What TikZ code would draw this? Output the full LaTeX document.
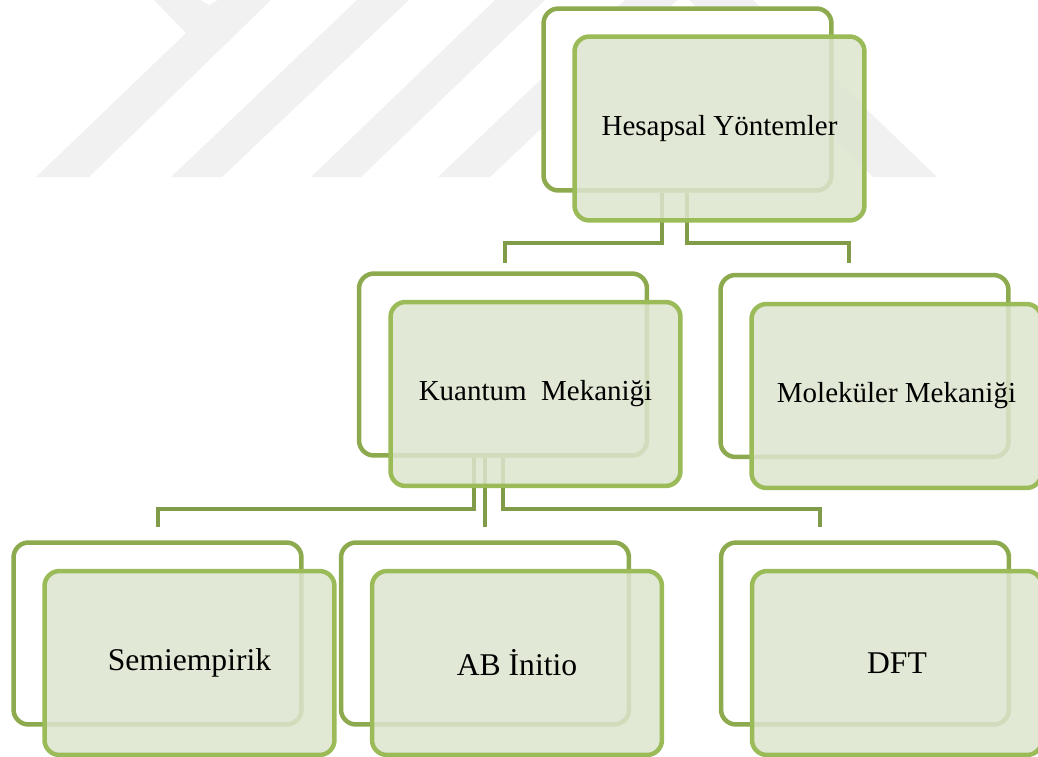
\documentclass[tikz,border=0pt]{standalone}
\usepackage{fontspec}
\setmainfont{Liberation Serif}
\usetikzlibrary{calc}

\definecolor{olivefront}{HTML}{9BBB59}
\definecolor{oliveback}{HTML}{8DAA4F}
\definecolor{olivelink}{HTML}{809C48}
\definecolor{olivefill}{HTML}{DCE5CE}
\definecolor{markgray}{HTML}{F1F1F1}

\tikzset{backbox/.style = {shape = rectangle,
                           rounded corners = 0.3cm,
                           draw = oliveback,
                           fill = white,
                           line width = 0.09cm,
                           minimum width = 5.76cm,
                           minimum height = 3.64cm,
                           inner sep = 0pt},
         frontbox/.style = {shape = rectangle,
                            rounded corners = 0.3cm,
                            draw = olivefront,
                            fill = olivefill,
                            fill opacity = 0.85,
                            text opacity = 1,
                            line width = 0.09cm,
                            minimum width = 5.8cm,
                            minimum height = 3.68cm,
                            inner sep = 0pt,
                            font = \fontsize{16.5}{20}\selectfont},
         bigtext/.style = {font = \fontsize{18}{22}\selectfont},
         link/.style = {draw = olivelink,
                        line width = 0.08cm}}

\begin{document}
\begin{tikzpicture}[x=0.02cm, y=-0.02cm]
		\clip (0,0) rectangle (1038,757);
		% watermark
		\fill[markgray] (154,0) -- (186,33) -- (36,177) -- (89,177) -- (271,0) -- (218,0) -- (209,5) -- (200,0) -- cycle;
		\fill[markgray] (171,177) -- (222,177) -- (409,0) -- (357,0) -- cycle;
		\fill[markgray] (311,177) -- (361,177) -- (545,0) -- (495,0) -- cycle;
		\fill[markgray] (438,177) -- (490,177) -- (683,-5) -- (630,-5) -- cycle;
		\fill[markgray] (873,177) -- (937,177) -- (753,0) -- (689,0) -- cycle;
		% back boxes
		\node[backbox] (hb) at (687.5,99.5) {};
		\node[backbox] (kb) at (503,364.5) {};
		\node[backbox] (mb) at (864.5,366) {};
		\node[backbox] (sb) at (157.5,633.5) {};
		\node[backbox] (ab) at (485,633.5) {};
		\node[backbox] (db) at (865,633.5) {};
		% connectors
		\draw[link] ($(hb.south)+(-25.5,0)$) -- ++(0,50) -| ($(kb.north)+(2,-8.5)$);
		\draw[link] ($(hb.south)+(-0.5,0)$) -- ++(0,50) -| ($(mb.north)+(-15.5,-10)$);
		\draw[link] ($(kb.south)+(-29,0)$) -- ++(0,51.5) -| ($(sb.north)+(0,-13.5)$);
		\draw[link] ($(kb.south)+(-18,0)$) -- ($(ab.north)+(0,-13.5)$);
		\draw[link] (kb.south) -- ++(0,51.5) -| ($(db.north)+(-45,-13.5)$);
		% front boxes
		\node[frontbox] (hf) at (719.5,128.5) {Hesapsal Yöntemler};
		\node[frontbox] (kf) at (535.5,394) {Kuantum\ \ Mekaniği};
		\node[frontbox] (mf) at (896.5,396) {Moleküler Mekaniği};
		\node[frontbox, bigtext] (sf) at (189.5,663) {Semiempirik};
		\node[frontbox, bigtext] (af) at (517,663) {AB İnitio};
		\node[frontbox, bigtext] (df) at (897,663) {DFT};
	\end{tikzpicture}
\end{document}
